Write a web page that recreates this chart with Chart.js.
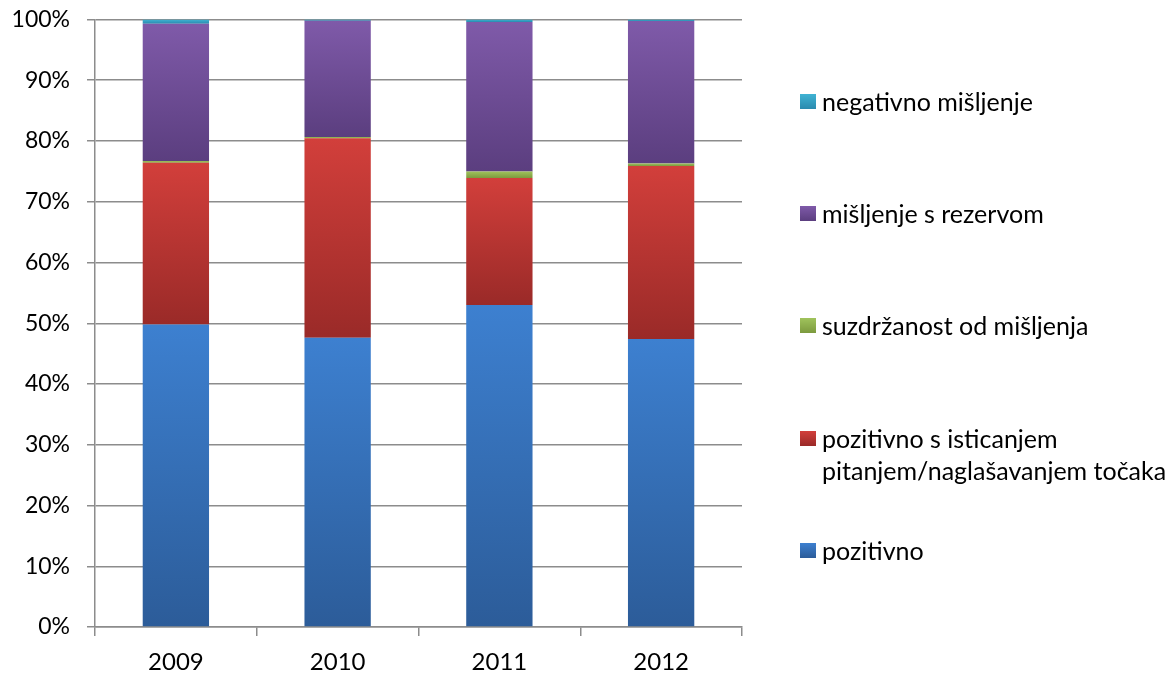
<!DOCTYPE html>
<html>
<head>
<meta charset="utf-8">
<script src="https://cdn.jsdelivr.net/npm/chart.js@4.4.1/dist/chart.umd.min.js"></script>
<style>
  html, body { margin: 0; padding: 0; background: #fff; }
  #wrap { position: relative; width: 1176px; height: 673px; }
  #legend { position: absolute; left: 800px; top: 0; font-family: Lato, sans-serif; font-size: 25px; color: #000; }
  .item { position: absolute; left: 0; white-space: nowrap; line-height: 32px; }
  .item .sw { position: absolute; left: 0; top: 9px; width: 16px; height: 15px; }
  .item .tx { margin-left: 22px; display: block; }
</style>
</head>
<body>
<div id="wrap">
  <canvas id="chart" width="1176" height="673"></canvas>
  <div id="legend"></div>
</div>
<script>
const years = ['2009', '2010', '2011', '2012'];
const pozitivno = [49.8, 47.6, 53.0, 47.4];
const pozitivnoIsticanje = [26.6, 32.85, 20.9, 28.5];
const suzdrzanost = [0.3, 0.2, 1.1, 0.4];
const rezerva = [22.6, 19.15, 24.6, 23.45];
const negativno = [0.7, 0.2, 0.4, 0.25];
const yTicks = [0, 10, 20, 30, 40, 50, 60, 70, 80, 90, 100];

const series = [
  { label: 'pozitivno', data: pozitivno, top: '#3d80d0', bottom: '#2c5c99' },
  { label: ['pozitivno s isticanjem', 'pitanjem/naglašavanjem točaka'], data: pozitivnoIsticanje, top: '#d23f3b', bottom: '#9a2a28' },
  { label: 'suzdržanost od mišljenja', data: suzdrzanost, top: '#a0c35c', bottom: '#7c9a3e' },
  { label: 'mišljenje s rezervom', data: rezerva, top: '#7f5aa9', bottom: '#5b3e7f' },
  { label: 'negativno mišljenje', data: negativno, top: '#40b3d3', bottom: '#2a8aae' }
];

function segmentFill(si) {
  return (ctx) => {
    const chart = ctx.chart;
    const s = series[si];
    if (!chart.chartArea || ctx.dataIndex === undefined) return s.top;
    const y = chart.scales.y;
    let start = 0;
    for (let k = 0; k < si; k++) start += series[k].data[ctx.dataIndex];
    const end = start + s.data[ctx.dataIndex];
    const g = chart.ctx.createLinearGradient(0, y.getPixelForValue(end), 0, y.getPixelForValue(start));
    g.addColorStop(0, s.top);
    g.addColorStop(1, s.bottom);
    return g;
  };
}

const gridColor = '#8c8c8c';

new Chart(document.getElementById('chart'), {
  type: 'bar',
  data: {
    labels: years,
    datasets: series.map((s, i) => ({
      label: Array.isArray(s.label) ? s.label.join(' ') : s.label,
      data: s.data,
      backgroundColor: segmentFill(i),
      borderWidth: 0,
      barPercentage: 0.41,
      categoryPercentage: 1
    }))
  },
  options: {
    responsive: false,
    animation: false,
    layout: { padding: { top: 19.5, right: 434, left: 0, bottom: 0 } },
    plugins: { legend: { display: false }, tooltip: { enabled: false } },
    scales: {
      x: {
        stacked: true,
        grid: { display: true, drawOnChartArea: false, color: gridColor, tickLength: 9, lineWidth: 1.5 },
        border: { color: gridColor, width: 1.5 },
        ticks: { color: '#000', font: { family: 'Lato, sans-serif', size: 24 }, padding: 12 },
        afterFit: (scale) => { scale.height = 46; scale.paddingLeft = 0; scale.paddingRight = 0; }
      },
      y: {
        stacked: true,
        min: 0,
        max: 100,
        afterBuildTicks: (scale) => { scale.ticks = yTicks.map(v => ({ value: v })); },
        grid: { color: gridColor, tickLength: 8, lineWidth: 1.5 },
        border: { color: gridColor, width: 1.5 },
        ticks: { color: '#000', font: { family: 'Lato, sans-serif', size: 23 }, padding: 17, callback: (v) => v + '%' },
        afterFit: (scale) => { scale.width = 95; scale.paddingTop = 0; scale.paddingBottom = 0; }
      }
    }
  }
});

// legend on the right, top-down order as in the original
const legendPos = [
  { si: 4, top: 85 },
  { si: 3, top: 197 },
  { si: 2, top: 309 },
  { si: 1, top: 422 },
  { si: 0, top: 534 }
];
const legend = document.getElementById('legend');
legendPos.forEach(p => {
  const s = series[p.si];
  const lines = Array.isArray(s.label) ? s.label : [s.label];
  const el = document.createElement('div');
  el.className = 'item';
  el.style.top = p.top + 'px';
  el.innerHTML = `<span class="sw" style="background:linear-gradient(${s.top},${s.bottom})"></span>` +
    lines.map(t => `<span class="tx">${t}</span>`).join('');
  legend.appendChild(el);
});
</script>
</body>
</html>
